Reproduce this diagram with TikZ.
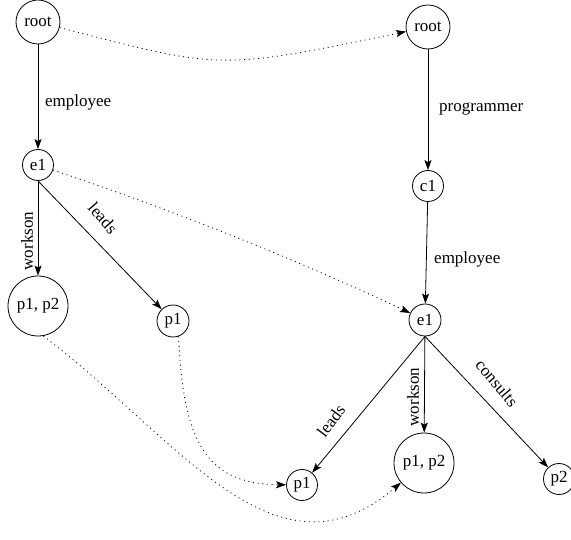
\documentclass[tikz,border=0pt]{standalone}
\usepackage{fontspec}
\setmainfont{Liberation Serif}
\usetikzlibrary{arrows.meta}
\begin{document}
\begin{tikzpicture}[x=1pt,y=-1pt,
  every node/.style={font=\fontsize{17}{20}\selectfont},
  vertex/.style={draw, circle, inner sep=0pt, line width=0.8pt},
  edge/.style={-{Stealth[length=10pt,width=7pt,inset=2pt]}, line width=0.8pt},
  link/.style={edge, dash pattern=on 1pt off 3.7pt},
  lbl/.style={inner sep=0pt}]
\useasboundingbox (0,0) rectangle (571,540);
\clip (0,0) rectangle (571,540);

% left graph
\node[vertex, minimum size=44pt] (rootL) at (38,22) {root};
\node[vertex, minimum size=31pt] (e1L) at (38,165) {e1};
\node[vertex, minimum size=60pt] (pqL) at (38,306) {p1, p2};
\node[vertex, minimum size=32pt] (p1M) at (173,321) {p1};

% right graph
\node[vertex, minimum size=44pt] (rootR) at (428,27) {root};
\node[vertex, minimum size=31pt] (c1) at (428,186) {c1};
\node[vertex, minimum size=32pt] (e1R) at (425,320) {e1};
\node[vertex, minimum size=31pt] (p1B) at (302,485) {p1};
\node[vertex, minimum size=60pt] (pqR) at (424,463) {p1, p2};
\node[vertex, minimum size=31pt] (p2) at (559,479) {p2};

% labelled edges
\draw[edge] (rootL) -- (e1L);
\draw[edge] (e1L) -- (pqL);
\draw[edge] (e1L.south) -- (p1M);
\draw[edge] (rootR) -- (c1);
\draw[edge] (c1) -- (e1R);
\draw[edge] (e1R.south) -- (p1B);
\draw[edge] (e1R) -- (pqR);
\draw[edge] (e1R.south) -- (p2);

\node[lbl, anchor=west] (tEmpL) at (45,102) {employee};
\node[lbl, anchor=west] (tProg) at (439,109) {programmer};
\node[lbl, anchor=west] (tEmpR) at (434,259) {employee};
\node[lbl, rotate=90] (tWorkL) at (27,241) {workson};
\node[lbl, rotate=-49] (tLeadL) at (103,218) {leads};
\node[lbl, rotate=53] (tLeadR) at (331,421) {leads};
\node[lbl, rotate=90] (tWorkR) at (413,397) {workson};
\node[lbl, rotate=-50] (tCons) at (497,383) {consults};

% dotted correspondences
\draw[link] (rootL) .. controls (220,69) and (216,71) .. (rootR);
\draw[link] (e1L) .. controls (175,211) and (293,258) .. (e1R);
\draw[link] (pqL.-80) .. controls (180,440) and (275,590) .. (pqR);
\draw[link] (p1M.-70) .. controls (183,440) and (205,484) .. (p1B);
\end{tikzpicture}
\end{document}
